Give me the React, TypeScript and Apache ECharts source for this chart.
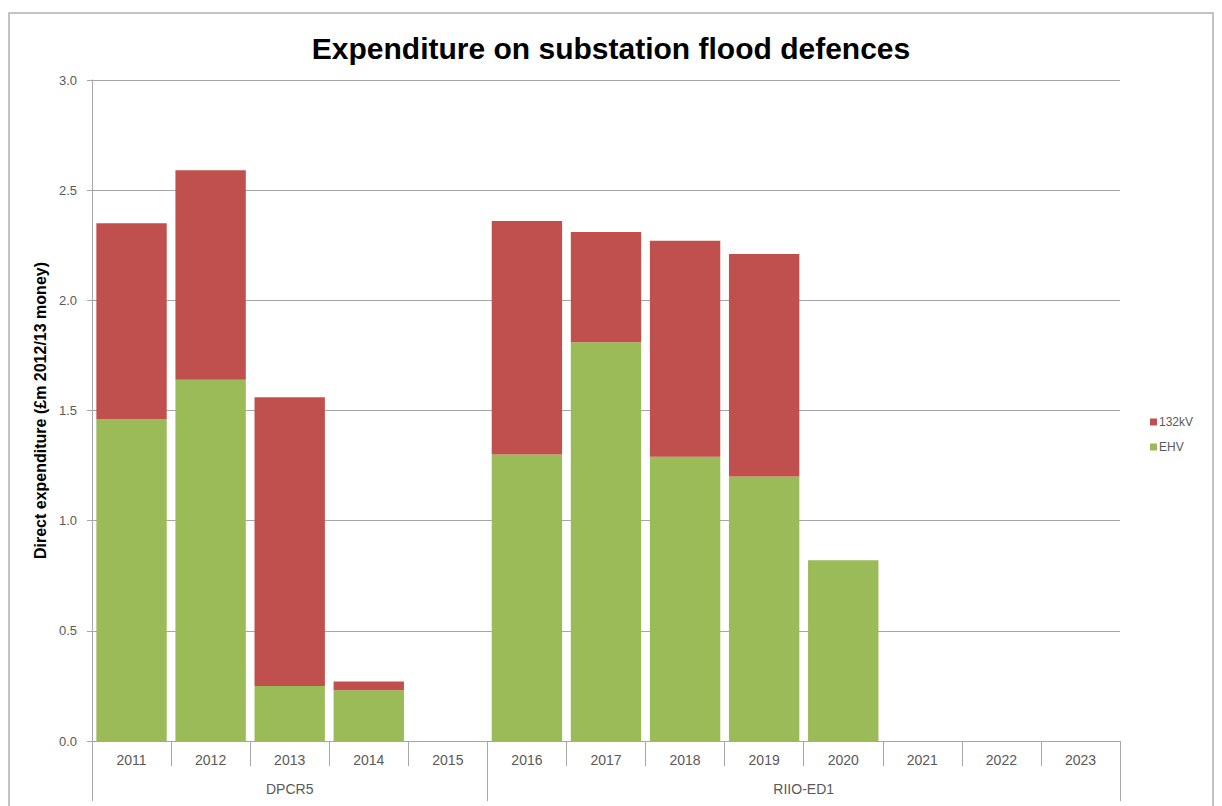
import React, { useEffect, useRef } from "react";
import * as echarts from "echarts";

const years = ["2011", "2012", "2013", "2014", "2015", "2016", "2017", "2018", "2019", "2020", "2021", "2022", "2023"];
const ehv = [1.46, 1.64, 0.25, 0.23, 0, 1.3, 1.81, 1.29, 1.2, 0.82, 0, 0, 0];
const kv132 = [0.89, 0.95, 1.31, 0.04, 0, 1.06, 0.5, 0.98, 1.01, 0, 0, 0, 0];
const groups = ["DPCR5", "RIIO-ED1"];
const groupCenters = [2.5, 9];
const groupBounds = [0, 5, 13];
const yTicks = [0, 0.5, 1, 1.5, 2, 2.5, 3];

const FONT = "Liberation Sans, Arial, sans-serif";

export default function App() {
  const ref = useRef<HTMLDivElement>(null);
  useEffect(() => {
    if (!ref.current) return;
    const chart = echarts.init(ref.current, undefined, { renderer: "svg" });
    chart.setOption({
      animation: false,
      backgroundColor: "#ffffff",
      textStyle: { fontFamily: FONT },
      title: {
        text: "Expenditure on substation flood defences",
        left: "center",
        top: 28,
        textStyle: { fontSize: 30, fontWeight: "bold", color: "#000000", fontFamily: FONT },
      },
      graphic: [
        {
          type: "rect",
          shape: { x: 9, y: 13, width: 1204, height: 810 },
          style: { fill: "none", stroke: "#b0b0b0", lineWidth: 1.5 },
          silent: true,
        },
      ],
      legend: {
        orient: "vertical",
        left: 1145,
        top: 411,
        itemWidth: 7,
        itemHeight: 7,
        itemGap: 13,
        icon: "rect",
        data: ["132kV", "EHV"],
        textStyle: { fontSize: 12, color: "#595959", fontFamily: FONT, padding: [0, 0, 0, -3] },
      },
      grid: { left: 92, right: 102, top: 80, bottom: 65, containLabel: false },
      xAxis: [
        {
          type: "category",
          data: years,
          position: "bottom",
          axisLine: { lineStyle: { color: "#a6a6a6", width: 1 } },
          axisTick: { show: true, length: 25, lineStyle: { color: "#a6a6a6" } },
          axisLabel: { color: "#595959", fontSize: 14, margin: 12, fontFamily: FONT },
          splitLine: { show: false },
        },
        {
          type: "value",
          min: 0,
          max: 13,
          position: "bottom",
          axisLine: { show: false },
          axisTick: { show: true, length: 60, customValues: groupBounds, lineStyle: { color: "#a6a6a6" } },
          axisLabel: {
            customValues: groupCenters,
            color: "#595959",
            fontSize: 14,
            margin: 41,
            fontFamily: FONT,
            formatter: (v: number) => {
              const i = groupCenters.indexOf(v);
              return i >= 0 ? groups[i] : "";
            },
          },
          splitLine: { show: false },
        },
      ],
      yAxis: {
        type: "value",
        min: yTicks[0],
        max: yTicks[yTicks.length - 1],
        interval: 0.5,
        name: "Direct expenditure (£m 2012/13 money)",
        nameLocation: "middle",
        nameRotate: 90,
        nameGap: 43,
        nameTextStyle: { fontSize: 16, fontWeight: "bold", color: "#000000", fontFamily: FONT },
        axisLine: { show: true, lineStyle: { color: "#a6a6a6" } },
        axisTick: { show: true, length: 5, lineStyle: { color: "#a6a6a6" } },
        axisLabel: { color: "#595959", fontSize: 13, margin: 15, formatter: (v: number) => v.toFixed(1), fontFamily: FONT },
        splitLine: { show: true, lineStyle: { color: "#a6a6a6", width: 1 } },
      },
      series: [
        {
          name: "EHV",
          type: "bar",
          stack: "total",
          data: ehv,
          barCategoryGap: "11%",
          itemStyle: { color: "#9BBB59" },
        },
        {
          name: "132kV",
          type: "bar",
          stack: "total",
          data: kv132,
          barCategoryGap: "11%",
          itemStyle: { color: "#C0504D" },
        },
      ],
    });
    return () => chart.dispose();
  }, []);
  return <div ref={ref} style={{ position: "absolute", left: 0, top: 0, width: 1222, height: 806 }} />;
}
